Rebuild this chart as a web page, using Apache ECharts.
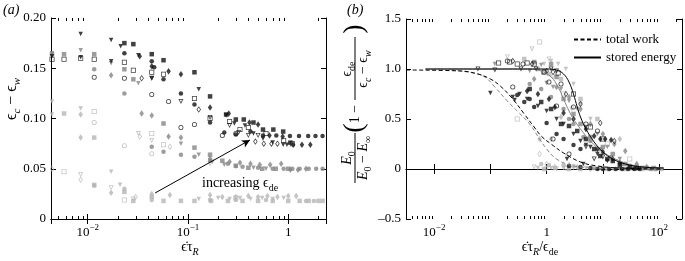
<!DOCTYPE html>
<html>
<head>
<meta charset="utf-8">
<script src="https://cdn.jsdelivr.net/npm/echarts@6/dist/echarts.min.js"></script>
<style>
  html, body { margin: 0; padding: 0; background: #fff; }
  #chart { width: 685px; height: 261px; }
</style>
</head>
<body>
<div id="chart"></div>
<script>
// ---- panel (a): eps_c - eps_w vs strain rate * tau_R ----
const aBlkTri = [[0.0044,0.162],[0.0085,0.184],[0.0085,0.161],[0.0171,0.178],[0.0171,0.157],[0.0213,0.172],[0.032,0.163],[0.0435,0.140],[0.128,0.129],[0.24,0.103],[0.29,0.095],[0.37,0.093],[0.45,0.085],[0.56,0.080],[0.7,0.076],[0.89,0.074],[0.97,0.074]];
const aBlkSq = [[0.0232,0.175],[0.0285,0.174],[0.0435,0.164],[0.057,0.158],[0.116,0.146],[0.166,0.122],[0.24,0.104],[0.3,0.099],[0.36,0.099],[0.45,0.096],[0.56,0.089],[0.71,0.089],[0.89,0.087],[1.05,0.076]];
const aBlkCirc = [[0.0232,0.165],[0.0435,0.157],[0.046,0.151],[0.057,0.139],[0.085,0.125],[0.116,0.114],[0.166,0.096],[0.23,0.086],[0.3,0.084],[0.42,0.087],[0.56,0.083],[0.76,0.083],[1.04,0.0827],[1.28,0.0827],[1.58,0.0827],[1.87,0.0827],[2.2,0.0827]];
const aBlkDia = [[0.033,0.162],[0.0435,0.152],[0.064,0.147],[0.085,0.144],[0.166,0.111],[0.255,0.105],[0.41,0.096],[0.5,0.094],[0.65,0.083],[0.88,0.082],[1.12,0.074],[1.37,0.074],[1.66,0.074]];
const aBlkSqO = [[0.0044,0.159],[0.0058,0.159],[0.0085,0.160],[0.0116,0.159],[0.0232,0.156],[0.0285,0.148],[0.0435,0.146],[0.057,0.144],[0.116,0.120],[0.166,0.100],[0.26,0.097],[0.33,0.089],[0.4,0.091],[0.6,0.085],[0.9,0.078],[1.1,0.075]];
const aBlkCircO = [[0.0116,0.141],[0.0232,0.140],[0.0435,0.124],[0.064,0.117],[0.085,0.091],[0.116,0.094],[0.22,0.083],[0.3,0.085]];
const aBlkTriO = [[0.0435,0.140],[0.085,0.117],[0.166,0.101],[0.26,0.093],[0.32,0.086],[0.40,0.083],[0.5,0.083]];
const aBlkDiaO = [[0.0345,0.140],[0.128,0.109],[0.47,0.077],[0.57,0.075],[0.68,0.075],[0.78,0.075]];

const aGryTri = [[0.0044,0.165],[0.0085,0.168],[0.0171,0.155],[0.032,0.135],[0.085,0.075],[0.128,0.064],[0.175,0.057],[0.23,0.054],[0.3,0.052],[0.45,0.051],[0.6,0.050]];
const aGrySq = [[0.0044,0.164],[0.0058,0.164],[0.0116,0.164],[0.0232,0.149],[0.0285,0.139],[0.057,0.095],[0.116,0.071],[0.166,0.064],[0.22,0.058],[0.3,0.053],[0.4,0.051],[0.55,0.050],[0.75,0.050],[1.0,0.050]];
const aGryCirc = [[0.0116,0.149],[0.0232,0.125],[0.0435,0.072],[0.057,0.067],[0.085,0.064],[0.116,0.062],[0.166,0.058],[0.25,0.055],[0.35,0.052],[0.5,0.051],[0.7,0.050],[0.9,0.050],[1.1,0.050],[1.3,0.050],[1.6,0.050],[1.9,0.050],[2.2,0.050]];
const aGryDia = [[0.0171,0.143],[0.0345,0.105],[0.0435,0.103],[0.064,0.082],[0.085,0.081],[0.166,0.06],[0.26,0.057],[0.33,0.056],[0.42,0.055],[0.52,0.054],[0.66,0.054],[0.85,0.055],[1.05,0.049],[1.25,0.049],[1.5,0.050]];

const aLgtTri = [[0.0044,0.117],[0.0044,0.104],[0.0085,0.110],[0.0171,0.047],[0.021,0.034],[0.128,0.020],[0.2,0.021],[0.26,0.020],[0.33,0.021],[0.42,0.020],[0.55,0.021],[0.7,0.020],[0.9,0.021]];
const aLgtSq = [[0.0058,0.105],[0.0116,0.081],[0.0116,0.034],[0.0232,0.027],[0.0285,0.018],[0.0435,0.022],[0.057,0.018],[0.085,0.018],[0.116,0.018],[0.17,0.018],[0.25,0.018],[0.35,0.018],[0.5,0.018],[0.7,0.018],[1.0,0.018],[1.3,0.018],[1.6,0.018],[2.0,0.018],[2.2,0.018]];
const aLgtDia = [[0.0085,0.104],[0.0085,0.081],[0.0171,0.026],[0.0435,0.025],[0.066,0.024],[0.166,0.024],[0.22,0.022],[0.3,0.022],[0.4,0.023],[0.5,0.022],[0.62,0.023],[0.78,0.022],[1.0,0.023],[1.2,0.023]];
const aLgtCirc = [[0.0116,0.033],[0.0232,0.030],[0.0435,0.019],[0.166,0.019],[0.3,0.019],[0.6,0.019],[1.5,0.018],[1.8,0.018]];
const aLgtSqO = [[0.0058,0.047],[0.0116,0.107],[0.0232,0.019],[0.0435,0.085],[0.057,0.074],[0.3,0.021]];
const aLgtTriO = [[0.0085,0.044],[0.0171,0.031],[0.032,0.085],[0.0435,0.078],[0.166,0.055],[0.0285,0.020]];
const aLgtDiaO = [[0.0044,0.050],[0.0085,0.039],[0.033,0.082],[0.066,0.072],[0.03,0.022]];
const aLgtCircO = [[0.0116,0.096],[0.0232,0.073],[0.0435,0.065]];

const aArrowFrom = [0.047, 0.0259];
const aArrowTo = [0.415, 0.0786];

// ---- panel (b): normalised energy vs rate / eps_de ----
const bDashBlack = [[0.0032,0.99],[0.03,0.98],[0.06,0.95],[0.1,0.9],[0.15,0.83],[0.25,0.7],[0.4,0.55],[0.6,0.42],[0.8,0.33],[1.2,0.25],[2,0.16],[4,0.07],[8,0.03],[20,0.01],[120,0]];
const bDashGray = [[0.02,0.99],[0.05,0.96],[0.08,0.92],[0.12,0.82],[0.2,0.68],[0.3,0.58],[0.5,0.45],[0.75,0.3],[1,0.2],[1.5,0.1],[3,0.03],[10,0.005]];
const bSolidBlack = [[0.007,1],[1,1],[1.5,0.99],[2,0.95],[2.5,0.87],[3,0.75],[3.5,0.62],[4,0.52],[5,0.4],[7,0.27],[10,0.17],[15,0.1],[25,0.05],[50,0.02],[120,0.01]];
const bSolidGray = [[0.007,1],[0.5,1],[0.8,0.98],[1.2,0.92],[1.6,0.82],[2,0.7],[2.5,0.58],[3,0.5],[4,0.4],[6,0.28],[10,0.17],[20,0.08],[40,0.03],[120,0.01]];

const bBlkTri = [[0.1,0.76],[0.25,0.72],[0.27,0.69],[0.33,0.75],[0.45,0.7],[0.7,0.63],[1,0.58],[1.5,0.5],[2,0.45],[3,0.35],[4,0.28],[5,0.24],[6,0.22],[8,0.15],[12,0.08],[2.3,0.1],[4.5,0.05]];
const bBlkSq = [[0.5,0.8],[0.8,0.67],[1.2,0.6],[1.8,0.45],[2.5,0.43],[3.5,0.38],[5,0.3],[7,0.2],[9,0.13],[12,0.1],[15,0.08],[20,0.04],[30,0.02],[40,0.01]];
const bBlkCirc = [[0.3,0.74],[0.4,0.67],[0.5,0.7],[0.6,0.62],[1,0.46],[1.5,0.35],[2,0.3],[3,0.24],[4,0.2],[2.5,0.03],[4,0.02],[6,0.01],[8,0],[10,0],[13,0],[17,0],[22,0],[28,0],[36,0],[45,0]];
const bBlkDia = [[0.45,0.78],[0.7,0.75],[1.1,0.7],[1.4,0.62],[2,0.56],[3,0.5],[5,0.4],[7,0.33],[9,0.3],[11,0.3],[14,0.29],[8,0.2],[10,0.17],[15,0.1],[20,0.06]];
const bBlkSqO = [[0.14,1.06],[0.22,1.07],[0.3,1.05],[0.45,1.06],[0.6,1.05],[0.9,0.97],[1.6,0.96],[3,0.75],[6,0.42],[10,0.3]];
const bBlkCircO = [[0.2,1.08],[0.25,0.82],[0.38,1.05],[0.9,0.97],[1.1,0.87],[1.8,0.85],[3,0.62],[5,0.45],[8,0.38],[1.5,0.63],[1.3,0.3],[2.5,0.15]];
const bBlkTriO = [[0.06,1.0],[0.12,0.99],[0.35,1.0],[0.65,1.0],[1.2,1.0],[1.5,0.98],[5,0.22],[7,0.1],[10,0.12]];
const bBlkDiaO = [[0.25,1.08],[0.55,1.05],[1.0,0.98],[1.3,0.97],[2.2,0.75],[4,0.65],[9,0.46],[16,0.28]];

const bGryTri = [[0.12,1.05],[0.5,0.98],[0.8,1.04],[1,0.86],[1.3,0.82],[1.8,0.8],[2.5,0.68],[3.5,0.6],[5,0.42],[8,0.35],[12,0.22],[20,0.1],[30,0.03],[50,0.01]];
const bGrySq = [[0.6,1.07],[1.2,1.05],[1.5,0.92],[2,0.7],[3,0.55],[4,0.45],[6,0.32],[10,0.22],[15,0.15],[25,0.05],[40,0.02],[60,0.01],[80,0.01]];
const bGryCirc = [[0.5,0.85],[0.8,0.8],[1.2,0.72],[2,0.6],[2.5,0.5],[3,0.45],[4.5,0.32],[6,0.28],[9,0.2],[14,0.12],[22,0.05],[35,0.02],[50,0.01],[70,0],[90,0]];
const bGryDia = [[0.6,0.9],[1.5,0.82],[2.5,0.72],[4,0.6],[6,0.45],[10,0.35],[16,0.25],[25,0.18],[40,0.05],[60,0.02]];

const bLgtSqO = [[0.75,1.27],[0.3,0.5],[2,0.75],[12,0.25],[30,0.1]];
const bLgtTriO = [[0.2,1.12],[0.55,1.2],[1.1,1.1],[1.3,0.92],[2.8,0.6],[0.6,0.02],[1,0],[1.5,0]];
const bLgtTri = [[0.9,1.05],[1.2,1.08],[1.6,1.05],[2.2,1.0],[3,0.85],[4,0.65],[6,0.5],[0.7,0.01],[1.2,0.01],[2,0.01],[3,0.01],[5,0.01],[10,0.01],[20,0],[40,0]];
const bLgtSq = [[0.4,1.1],[0.7,1.0],[1.1,0.95],[1.8,0.9],[4,0.7],[8,0.5],[0.9,0],[1.4,0.01],[2.5,0],[4,0],[7,0.01],[12,0],[25,0],[50,0],[80,0],[110,0]];
const bLgtDia = [[0.75,0.3],[1.2,0.3],[1.8,0.52],[3,0.5],[20,0.3],[2.5,0.04],[3.5,0.02]];
const bLgtDiaO = [[0.75,0.15],[1.0,0.05],[1.4,0.02],[2.2,0.01],[6,0]];
const bLgtCirc = [[0.8,0.05],[1.1,0.04],[2,0.04],[3,0.03],[9,0.01],[16,0],[30,0]];

// axis ranges and minor (log) ticks
const aXRange = [0.0043, 2.38];
const aYRange = [0, 0.2];
const bXRange = [0.00316, 255];
const bYRange = [-0.5, 1.5];
const aMinor = [0.005,0.006,0.007,0.008,0.009,0.02,0.03,0.04,0.05,0.06,0.07,0.08,0.09,0.2,0.3,0.4,0.5,0.6,0.7,0.8,0.9,2];
const bMinor = [0.004,0.005,0.006,0.007,0.008,0.009,0.02,0.03,0.04,0.05,0.06,0.07,0.08,0.09,0.2,0.3,0.4,0.5,0.6,0.7,0.8,0.9,
  2,3,4,5,6,7,8,9,20,30,40,50,60,70,80,90,200];

const BLACK = '#111', GRAY = '#858585', LIGHT = '#b5b5b5';
const FONT = "'Liberation Serif', 'DejaVu Serif', serif";
const DASH = [4, 2.5];

// thin-outline (ring) markers for the open symbols
const RING = {
  sq: 'path://M0,0H20V20H0Z M3,3V17H17V3Z',
  ci: 'path://M10,0A10,10,0,1,1,10,20A10,10,0,1,1,10,0Z M10,3A7,7,0,1,0,10,17A7,7,0,1,0,10,3Z',
  tri: 'path://M0,0H20L10,20Z M5.2,3L10,13.4L14.8,3Z',
  di: 'path://M10,0L20,10L10,20L0,10Z M10,4L4,10L10,16L16,10Z'
};

const SYM = {
  tri: ['triangle', 180], triO: [RING.tri, 0],
  sq: ['rect', 0], sqO: [RING.sq, 0],
  ci: ['circle', 0], ciO: [RING.ci, 0],
  di: ['diamond', 0], diO: [RING.di, 0]
};

function pts(p, data, kind, color) {
  const empty = kind.slice(-1) === 'O';
  return {
    type: 'scatter', xAxisIndex: p * 2, yAxisIndex: p * 2, data: data,
    symbol: SYM[kind][0], symbolRotate: SYM[kind][1], symbolKeepAspect: false,
    symbolSize: kind.indexOf('di') === 0 ? [4.5, 6.5] : (empty ? 5 : 4.5),
    itemStyle: {color: color, borderWidth: 0},
    silent: true, animation: false, z: 3
  };
}

function minorTicks(p, values, yr) {
  return {
    type: 'custom', xAxisIndex: p * 2, yAxisIndex: p * 2, silent: true, animation: false,
    data: values.map(v => [v, yr[0]]), clip: false,
    renderItem(params, api) {
      const b = api.coord([api.value(0), yr[0]]);
      const t = api.coord([api.value(0), yr[1]]);
      const x = Math.round(b[0]) + 0.5;
      return {type: 'group', children: [
        {type: 'line', shape: {x1: x, y1: b[1], x2: x, y2: b[1] - 3}, style: {stroke: '#000', lineWidth: 1}},
        {type: 'line', shape: {x1: x, y1: t[1], x2: x, y2: t[1] + 3}, style: {stroke: '#000', lineWidth: 1}}
      ]};
    }
  };
}

function logLabel(skipOdd) {
  return function (v) {
    const e = Math.log10(v), r = Math.round(e);
    if (Math.abs(e - r) > 1e-6) return '';
    if (skipOdd && r % 2 !== 0) return '';
    if (r === 0) return '{b|1}';
    return '{b|10}{s|' + (r < 0 ? '\u2212' : '') + Math.abs(r) + '}';
  };
}

const labelRich = {
  b: {fontFamily: FONT, fontSize: 13, color: '#000', lineHeight: 20, verticalAlign: 'middle'},
  s: {fontFamily: FONT, fontSize: 9, color: '#000', lineHeight: 9, verticalAlign: 'top'}
};

function xAx(grid, range, pos, showLabel, skipOdd) {
  return {
    type: 'log', logBase: 10, gridIndex: grid, position: pos, min: range[0], max: range[1],
    axisLine: {lineStyle: {color: '#000', width: 1}},
    axisTick: {inside: true, length: 5, lineStyle: {color: '#000'}},
    splitLine: {show: false},
    axisLabel: {show: showLabel, margin: 4, formatter: logLabel(skipOdd), rich: labelRich, showMinLabel: true, showMaxLabel: true}
  };
}

function yAx(grid, range, step, pos, showLabel, fmt) {
  return {
    type: 'value', gridIndex: grid, position: pos, min: range[0], max: range[1], interval: step,
    axisLine: {show: true, lineStyle: {color: '#000', width: 1}},
    axisTick: {show: true, inside: true, length: 5, lineStyle: {color: '#000'}},
    splitLine: {show: false},
    axisLabel: {show: showLabel, margin: 5, formatter: fmt, fontFamily: FONT, fontSize: 13, color: '#000'}
  };
}

const chart = echarts.init(document.getElementById('chart'), null, {renderer: 'canvas'});

const sub = {
  m: {fontFamily: FONT, fontSize: 14, lineHeight: 20, verticalAlign: 'middle', color: '#000'},
  i: {fontFamily: FONT, fontSize: 14, fontStyle: 'italic', lineHeight: 20, verticalAlign: 'middle', color: '#000'},
  s: {fontFamily: FONT, fontSize: 10, lineHeight: 10, verticalAlign: 'bottom', color: '#000'},
  si: {fontFamily: FONT, fontSize: 10, fontStyle: 'italic', lineHeight: 10, verticalAlign: 'bottom', color: '#000'},
  L: {fontFamily: FONT, fontSize: 16, lineHeight: 22, verticalAlign: 'middle', color: '#000'},
  Ls: {fontFamily: FONT, fontSize: 11, fontStyle: 'italic', lineHeight: 11, verticalAlign: 'bottom', color: '#000'}
};

function txt(x, y, text, rot, align) {
  return {type: 'text', x: x, y: y, rotation: rot || 0, silent: true,
    style: {text: text, rich: sub, align: align || 'center', verticalAlign: 'middle', fill: '#000'}};
}

const EPS = '\u03f5', EPSDOT = '\u03f5\u0307';

chart.setOption({
  animation: false,
  backgroundColor: '#fff',
  grid: [
    {left: 51, top: 18, width: 275, height: 201},
    {left: 406, top: 19, width: 277, height: 200}
  ],
  xAxis: [
    xAx(0, aXRange, 'bottom', true, false),
    xAx(0, aXRange, 'top', false, false),
    xAx(1, bXRange, 'bottom', true, true),
    xAx(1, bXRange, 'top', false, true)
  ],
  yAxis: [
    yAx(0, aYRange, 0.05, 'left', true, v => v === 0 ? '0' : v.toFixed(2)),
    yAx(0, aYRange, 0.05, 'right', false),
    yAx(1, bYRange, 0.5, 'left', true, v => v === 0 ? '0' : v.toFixed(1).replace('-', '\u2013')),
    yAx(1, bYRange, 0.5, 'right', false)
  ],
  legend: {
    data: ['total work', 'stored energy'],
    orient: 'vertical', left: 568, top: 28, itemGap: 5, itemWidth: 27, itemHeight: 10,
    itemStyle: {opacity: 0},
    textStyle: {fontFamily: FONT, fontSize: 13, color: '#000'},
    selectedMode: false
  },
  graphic: [
    txt(3, 10, '{i|(a)}', 0, 'left'),
    txt(347, 10, '{i|(b)}', 0, 'left'),
    txt(12, 99, '{L|' + EPS + '}{Ls|c}{L| \u2212 ' + EPS + '}{Ls|w}', Math.PI / 2),
    txt(190, 247, '{m|' + EPSDOT + '\u03c4}{si|R}'),
    txt(540, 247, '{m|' + EPSDOT + '\u03c4}{si|R}{m|/' + EPS + '}{s|de}'),
    txt(202, 183, '{m|increasing ' + EPS + '}{s|de}', 0, 'left'),
    {
      type: 'group', x: 355, y: 117, rotation: Math.PI / 2, silent: true,
      children: [
        txt(-41, -8, '{i|E}{s|0}'),
        {type: 'line', shape: {x1: -66, y1: 0, x2: -16, y2: 0}, style: {stroke: '#000', lineWidth: 1}},
        txt(-41, 8, '{i|E}{s|0}{m| \u2212 }{i|E}{s|\u221e}'),
        {type: 'text', x: -11, y: 0, style: {text: '(', font: '28px ' + FONT, align: 'center', verticalAlign: 'middle', fill: '#000'}},
        txt(3, 0, '{m|1 \u2212}'),
        txt(48, -8, '{m|' + EPS + '}{s|de}'),
        {type: 'line', shape: {x1: 17, y1: 0, x2: 80, y2: 0}, style: {stroke: '#000', lineWidth: 1}},
        txt(48, 8, '{m|' + EPS + '}{si|c}{m| \u2212 ' + EPS + '}{si|w}'),
        {type: 'text', x: 88, y: 0, style: {text: ')', font: '28px ' + FONT, align: 'center', verticalAlign: 'middle', fill: '#000'}}
      ]
    }
  ],
  series: [
    minorTicks(0, aMinor, aYRange),
    minorTicks(1, bMinor, bYRange),
    pts(0, aLgtTri, 'tri', LIGHT), pts(0, aLgtSq, 'sq', LIGHT), pts(0, aLgtDia, 'di', LIGHT), pts(0, aLgtCirc, 'ci', LIGHT),
    pts(0, aLgtSqO, 'sqO', LIGHT), pts(0, aLgtTriO, 'triO', LIGHT), pts(0, aLgtDiaO, 'diO', LIGHT), pts(0, aLgtCircO, 'ciO', LIGHT),
    pts(0, aGryTri, 'tri', GRAY), pts(0, aGrySq, 'sq', GRAY), pts(0, aGryCirc, 'ci', GRAY), pts(0, aGryDia, 'di', GRAY),
    pts(0, aBlkTri, 'tri', BLACK), pts(0, aBlkSq, 'sq', BLACK), pts(0, aBlkCirc, 'ci', BLACK), pts(0, aBlkDia, 'di', BLACK),
    pts(0, aBlkSqO, 'sqO', BLACK), pts(0, aBlkCircO, 'ciO', BLACK), pts(0, aBlkTriO, 'triO', BLACK),
    Object.assign(pts(0, aBlkDiaO, 'diO', BLACK), {
      markLine: {
        silent: true, animation: false, symbol: ['none', 'arrow'], symbolSize: [6, 8],
        label: {show: false}, lineStyle: {color: '#000', width: 1, type: 'solid'},
        data: [[{coord: aArrowFrom}, {coord: aArrowTo}]]
      }
    }),
    pts(1, bLgtSqO, 'sqO', LIGHT), pts(1, bLgtTriO, 'triO', LIGHT), pts(1, bLgtTri, 'tri', LIGHT), pts(1, bLgtSq, 'sq', LIGHT),
    pts(1, bLgtDia, 'di', LIGHT), pts(1, bLgtDiaO, 'diO', LIGHT), pts(1, bLgtCirc, 'ci', LIGHT),
    pts(1, bGryTri, 'tri', GRAY), pts(1, bGrySq, 'sq', GRAY), pts(1, bGryCirc, 'ci', GRAY), pts(1, bGryDia, 'di', GRAY),
    pts(1, bBlkTri, 'tri', BLACK), pts(1, bBlkSq, 'sq', BLACK), pts(1, bBlkCirc, 'ci', BLACK), pts(1, bBlkDia, 'di', BLACK),
    pts(1, bBlkSqO, 'sqO', BLACK), pts(1, bBlkCircO, 'ciO', BLACK), pts(1, bBlkTriO, 'triO', BLACK), pts(1, bBlkDiaO, 'diO', BLACK),
    {name: 'gray work', type: 'line', xAxisIndex: 2, yAxisIndex: 2, data: bDashGray, smooth: 0.4, symbol: 'none',
      lineStyle: {color: GRAY, width: 1, type: DASH}, silent: true, z: 4},
    {name: 'gray stored', type: 'line', xAxisIndex: 2, yAxisIndex: 2, data: bSolidGray, smooth: 0.4, symbol: 'none',
      lineStyle: {color: GRAY, width: 1}, silent: true, z: 4},
    {name: 'total work', type: 'line', xAxisIndex: 2, yAxisIndex: 2, data: bDashBlack, smooth: 0.4, symbol: 'none',
      itemStyle: {color: '#000'}, lineStyle: {color: '#000', width: 1, type: DASH}, silent: true, z: 5},
    {name: 'stored energy', type: 'line', xAxisIndex: 2, yAxisIndex: 2, data: bSolidBlack, smooth: 0.4, symbol: 'none',
      itemStyle: {color: '#000'}, lineStyle: {color: '#000', width: 1}, silent: true, z: 5}
  ]
});
</script>
</body>
</html>
